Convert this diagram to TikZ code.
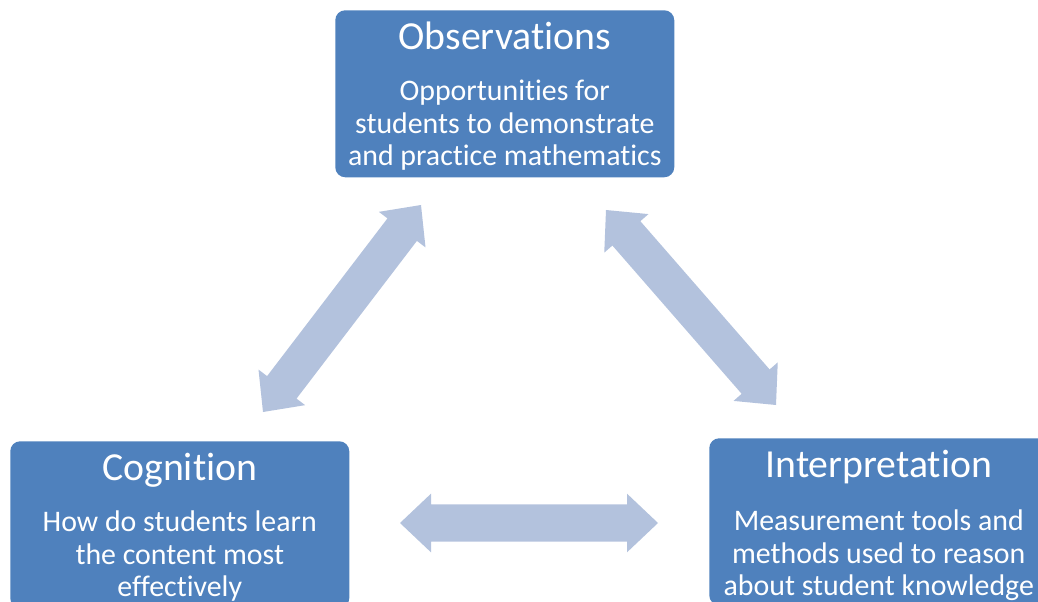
\documentclass[tikz,border=0pt]{standalone}
\usepackage{fontspec}
\setmainfont{Carlito}[Ligatures=NoCommon]
\usetikzlibrary{calc}
\definecolor{boxblue}{HTML}{4F81BD}
\definecolor{arrowblue}{HTML}{B3C2DD}
\tikzset{
	box/.style={fill=boxblue, rounded corners=7.5pt, minimum width=254.25pt, minimum height=125.25pt, anchor=north west, inner sep=0pt},
	title/.style={text=white, font=\fontsize{29.8}{35}\selectfont, anchor=base, inner sep=0pt},
	body/.style={text=white, font=\fontsize{22.4}{24.4}\selectfont, align=center, anchor=base, inner sep=0pt},
}
\newcommand{\bothways}[2]{%
	\fill[arrowblue] let \p1=(#1), \p2=(#2), \n1={atan2(\y2-\y1,\x2-\x1)} in
		(\p1) -- ($(\p1)+(\n1:23.25pt)+(\n1+90:22pt)$) -- ($(\p1)+(\n1:23.25pt)+(\n1+90:13.9pt)$)
		-- ($(\p2)+(\n1:-23.25pt)+(\n1+90:13.9pt)$) -- ($(\p2)+(\n1:-23.25pt)+(\n1+90:22pt)$)
		-- (\p2) -- ($(\p2)+(\n1:-23.25pt)+(\n1-90:22pt)$) -- ($(\p2)+(\n1:-23.25pt)+(\n1-90:13.9pt)$)
		-- ($(\p1)+(\n1:23.25pt)+(\n1-90:13.9pt)$) -- ($(\p1)+(\n1:23.25pt)+(\n1-90:22pt)$) -- cycle;
}

\begin{document}
\begin{tikzpicture}[x=0.75pt,y=-0.75pt]
	\useasboundingbox (0,0) rectangle (1038,602);
	\clip (0,0) rectangle (1038,602);

	\node[box] (obs) at (335,10) {};
	\node[box] (cog) at (10,441) {};
	\node[box] (interp) at (709,438) {};

	% body anchor sits on the last line
	\node[title] (obstitle) at ([yshift=-29.8pt]obs.north) {Observations};
	\node[body] (obsbody) at ([yshift=-116.8pt]obs.north) {Opportunities for\\students to demonstrate\\and practice mathematics};
	\node[title] (cogtitle) at ([yshift=-29.5pt]cog.north) {Cognition};
	\node[body] (cogbody) at ([yshift=-116.8pt]cog.north) {How do students learn\\the content most\\effectively};
	\node[title] (interptitle) at ([yshift=-29.8pt]interp.north) {Interpretation};
	\node[body] (interpbody) at ([yshift=-118.3pt]interp.north) {Measurement tools and\\methods used to reason\\about student knowledge};

	\coordinate (cogup) at (263,412);
	\coordinate (obsleft) at (421,205);
	\coordinate (obsright) at (606,210);
	\coordinate (interpup) at (776,405);
	\coordinate (cogright) at (400,523);
	\coordinate (interpleft) at (658,523);

	\bothways{cogup}{obsleft}
	\bothways{obsright}{interpup}
	\bothways{cogright}{interpleft}
\end{tikzpicture}
\end{document}
